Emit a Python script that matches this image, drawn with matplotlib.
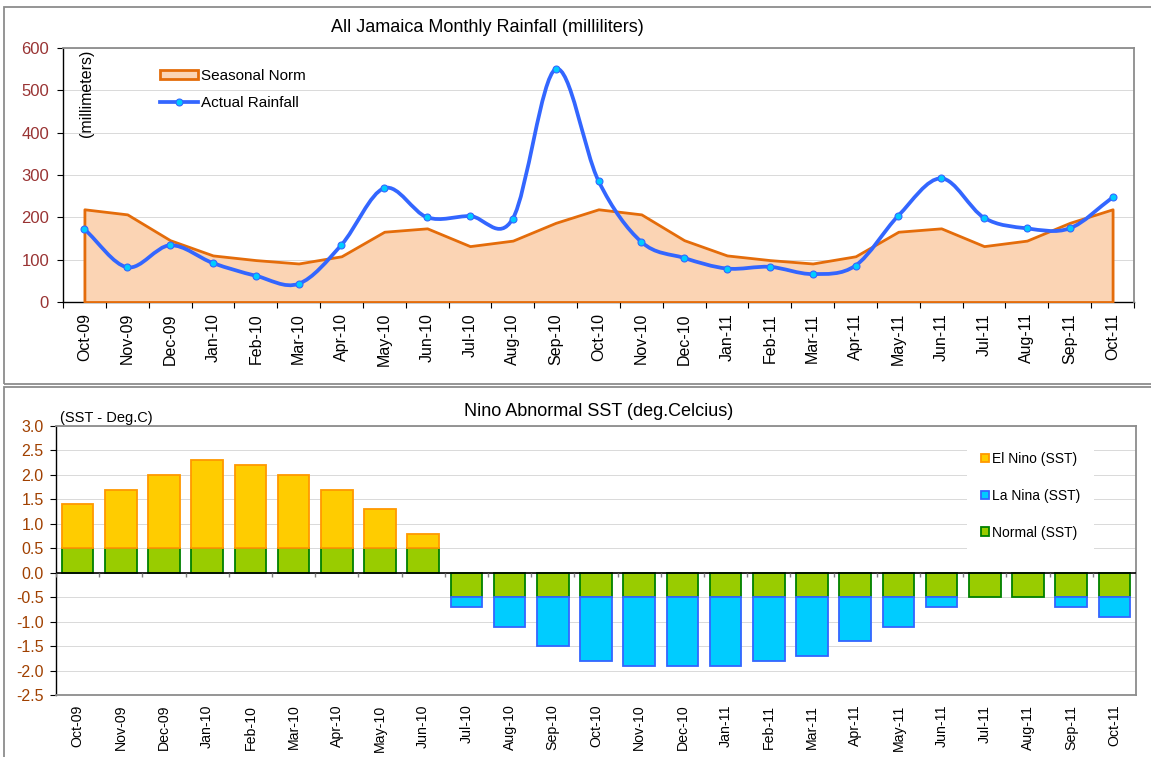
import numpy as np
import matplotlib
matplotlib.use('Agg')
import matplotlib.pyplot as plt
from matplotlib.patches import Rectangle, Patch, PathPatch
from matplotlib.lines import Line2D
from matplotlib.path import Path

plt.rcParams['font.family'] = ['Liberation Sans', 'DejaVu Sans']
plt.rcParams['axes.unicode_minus'] = False

# Data
months = ['Oct-09', 'Nov-09', 'Dec-09', 'Jan-10', 'Feb-10', 'Mar-10', 'Apr-10',
          'May-10', 'Jun-10', 'Jul-10', 'Aug-10', 'Sep-10', 'Oct-10', 'Nov-10',
          'Dec-10', 'Jan-11', 'Feb-11', 'Mar-11', 'Apr-11', 'May-11', 'Jun-11',
          'Jul-11', 'Aug-11', 'Sep-11', 'Oct-11']

seasonal_norm = [219, 207, 146, 110, 99, 91, 108, 166, 174, 132, 145, 187,
                 219, 207, 146, 110, 99, 91, 108, 166, 174, 132, 145, 187, 219]
actual_rain = [172, 82, 134, 92, 62, 43, 135, 269, 200, 203, 197, 550,
               286, 142, 104, 79, 83, 66, 86, 204, 292, 199, 174, 174, 247]

sst_normal = [0.5, 0.5, 0.5, 0.5, 0.5, 0.5, 0.5, 0.5, 0.5,
              -0.5, -0.5, -0.5, -0.5, -0.5, -0.5, -0.5, -0.5,
              -0.5, -0.5, -0.5, -0.5, -0.5, -0.5, -0.5, -0.5]
sst_el_nino = [0.9, 1.2, 1.5, 1.8, 1.7, 1.5, 1.2, 0.8, 0.3,
               0, 0, 0, 0, 0, 0, 0, 0, 0, 0, 0, 0, 0, 0, 0, 0]
sst_la_nina = [0, 0, 0, 0, 0, 0, 0, 0, 0,
               -0.2, -0.6, -1.0, -1.3, -1.4, -1.4, -1.4, -1.3,
               -1.2, -0.9, -0.6, -0.2, 0, 0, -0.2, -0.4]

# Colors
orange_edge = '#E46C0A'
peach = '#FBD4B4'
line_blue = '#3366FF'
cyan = '#00CCFF'
el_fill, el_edge = '#FFCC00', '#FF9900'
la_fill, la_edge = '#00CCFF', '#3366FF'
nm_fill, nm_edge = '#99CC00', '#008000'
border_gray = '#8C8C8C'
grid_gray = '#D9D9D9'

W, H = 1151, 757
fig = plt.figure(figsize=(W / 100, H / 100), dpi=100)


def smooth_path(xs, ys):
    # Bezier segments through the points (Excel-like smoothed line)
    xs = np.asarray(xs, float)
    ys = np.asarray(ys, float)
    gx = np.gradient(xs)
    gy = np.gradient(ys)
    verts = [(xs[0], ys[0])]
    codes = [Path.MOVETO]
    for i in range(len(xs) - 1):
        verts += [(xs[i] + gx[i] / 3, ys[i] + gy[i] / 3),
                  (xs[i + 1] - gx[i + 1] / 3, ys[i + 1] - gy[i + 1] / 3),
                  (xs[i + 1], ys[i + 1])]
        codes += [Path.CURVE4] * 3
    return Path(verts, codes)


x = np.arange(len(months))

# Panel borders
fig.add_artist(Rectangle((4 / W, 1 - 384 / H), 1.0, (384 - 7) / H,
                         transform=fig.transFigure, fill=False,
                         edgecolor=border_gray, lw=1.3))
fig.add_artist(Rectangle((4 / W, -0.05), 1.0, 1 - 387 / H + 0.05,
                         transform=fig.transFigure, fill=False,
                         edgecolor=border_gray, lw=1.3))

# ---------------- Top chart ----------------
ax1 = fig.add_axes([63 / W, 1 - 302 / H, (1134 - 63) / W, (302 - 48) / H])
ax1.set_xlim(-0.5, len(months) - 0.5)
ax1.set_ylim(0, 600)

ax1.fill_between(x, 0, seasonal_norm, facecolor=peach, edgecolor=orange_edge,
                 lw=2, zorder=2)
ax1.add_patch(PathPatch(smooth_path(x, actual_rain), facecolor='none',
                        edgecolor=line_blue, lw=2.7, zorder=3))
ax1.plot(x, actual_rain, ls='none', marker='o', ms=5, mfc=cyan,
         mec=line_blue, mew=0.8, zorder=4)

ax1.set_xticks(np.arange(-0.5, len(months), 1))
ax1.set_xticklabels([])
ax1.set_xticks(x, minor=True)
ax1.set_xticklabels(months, minor=True, rotation=90)
ax1.tick_params(axis='x', which='major', length=4, color='black')
ax1.tick_params(axis='x', which='minor', length=0, pad=8, labelsize=11.5)
ax1.set_yticks(np.arange(0, 601, 100))
ax1.tick_params(axis='y', length=4, pad=6, labelcolor='#993333', labelsize=12)
ax1.grid(axis='y', color=grid_gray, lw=0.7)
ax1.set_axisbelow(True)
for s in ['top', 'right']:
    ax1.spines[s].set_color(border_gray)
    ax1.spines[s].set_linewidth(1.3)
for s in ['left', 'bottom']:
    ax1.spines[s].set_color('black')
    ax1.spines[s].set_linewidth(1.0)
ax1.spines['bottom'].set_zorder(1)

ax1.text(0.022, 0.995, '(millimeters)', transform=ax1.transAxes, rotation=90,
         ha='center', va='top', fontsize=11.5)

leg1_handles = [Patch(facecolor=peach, edgecolor=orange_edge, lw=2),
                Line2D([0], [0], color=line_blue, lw=2.7, marker='o', ms=5,
                       mfc=cyan, mec=line_blue, mew=0.8)]
ax1.legend(leg1_handles, ['Seasonal Norm', 'Actual Rainfall'],
           loc='upper left', bbox_to_anchor=(160 / W, 1 - 69 / H),
           bbox_transform=fig.transFigure, frameon=False, fontsize=11,
           borderpad=0, borderaxespad=0, handlelength=2.5, handleheight=0.55,
           handletextpad=0.2, labelspacing=0.85, numpoints=1)

fig.text(487 / W, 1 - 28 / H, 'All Jamaica Monthly Rainfall (milliliters)',
         ha='center', va='center', fontsize=13)

# ---------------- Bottom chart ----------------
ax2 = fig.add_axes([56 / W, 1 - 695 / H, (1136 - 56) / W, (695 - 426) / H])
ax2.set_xlim(-0.5, len(months) - 0.5)
ax2.set_ylim(-2.5, 3.0)

normal = np.array(sst_normal)
el = np.array(sst_el_nino)
la = np.array(sst_la_nina)
bw = 0.73

b_nm = ax2.bar(x, normal, width=bw, facecolor=nm_fill, edgecolor=nm_edge,
               lw=1.3, zorder=2)
m_el = el != 0
b_el = ax2.bar(x[m_el], el[m_el], bottom=normal[m_el], width=bw,
               facecolor=el_fill, edgecolor=el_edge, lw=1.3, zorder=2)
m_la = la != 0
b_la = ax2.bar(x[m_la], la[m_la], bottom=normal[m_la], width=bw,
               facecolor=la_fill, edgecolor=la_edge, lw=1.3, zorder=2)

ax2.axhline(0, color='black', lw=1.2, zorder=3)
ax2.vlines(np.arange(-0.5, len(months), 1), -0.08, 0, color='#808080',
           lw=1, zorder=3)

ax2.set_xticks(x)
ax2.set_xticklabels(months, rotation=90)
ax2.tick_params(axis='x', length=0, pad=7, labelsize=10.2)
yt = np.arange(-2.5, 3.01, 0.5)
ax2.set_yticks(yt)
ax2.set_yticklabels([f'{v:.1f}' for v in yt])
ax2.tick_params(axis='y', length=4, pad=5, labelcolor='#A04000', labelsize=11.5)
ax2.grid(axis='y', color=grid_gray, lw=0.7)
ax2.set_axisbelow(True)
for s in ['top', 'right', 'bottom']:
    ax2.spines[s].set_color(border_gray)
    ax2.spines[s].set_linewidth(1.3)
ax2.spines['left'].set_color('black')
ax2.spines['left'].set_linewidth(1.0)

ax2.text(0.004, 1.003, '(SST - Deg.C)', transform=ax2.transAxes,
         ha='left', va='bottom', fontsize=10.5)

leg2 = ax2.legend([b_el, b_la, b_nm],
                  ['El Nino (SST)', 'La Nina (SST)', 'Normal (SST)'],
                  loc='upper left', bbox_to_anchor=(967 / W, 1 - 438 / H),
                  bbox_transform=fig.transFigure, fontsize=10,
                  frameon=True, fancybox=False, framealpha=1,
                  borderpad=1.0, borderaxespad=0, handlelength=0.6,
                  handleheight=0.6, handletextpad=0.2, labelspacing=1.65)
leg2.get_frame().set_facecolor('white')
leg2.get_frame().set_edgecolor('none')

fig.text(599 / W, 1 - 411 / H, 'Nino Abnormal SST (deg.Celcius)',
         ha='center', va='center', fontsize=13)

fig.savefig('out.png', dpi=100, facecolor='white')
